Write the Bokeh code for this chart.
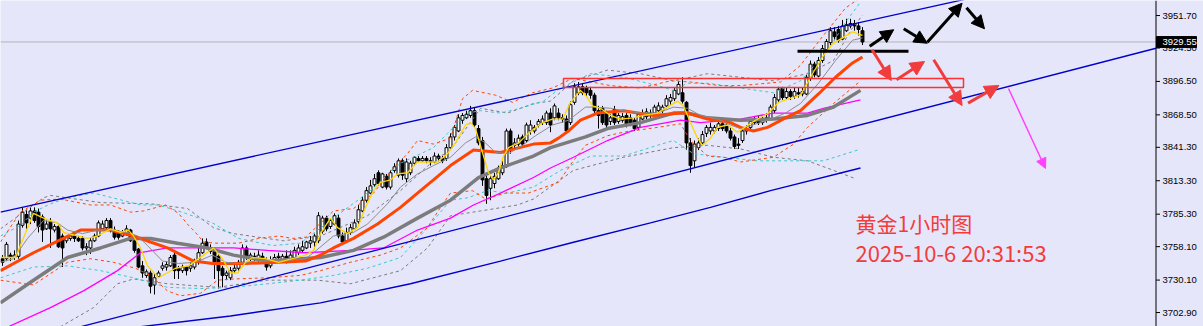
from bokeh.plotting import figure
from bokeh.models import Range1d, Label, Arrow, NormalHead
from bokeh.core.properties import value
from bokeh.embed import file_html
from bokeh.resources import INLINE

# ---------------- candle data (XAUUSD, H1) ----------------
open_px = [3748,3748,3751,3749,3750,3776,3785,3782,3788,3787,
 3783,3773,3779,3772,3775,3767,3763,3765,3767,3765,
 3765,3757,3757,3763,3767,3773,3774,3780,3772,3770,
 3767,3769,3772,3763,3756,3742,3734,3736,3726,3733,
 3740,3741,3742,3751,3740,3738,3741,3740,3741,3745,
 3753,3762,3757,3754,3750,3740,3734,3732,3738,3740,
 3745,3757,3749,3750,3747,3750,3746,3742,3747,3749,
 3746,3750,3748,3749,3753,3755,3757,3761,3762,3763,
 3771,3782,3775,3777,3782,3767,3763,3770,3773,3779,
 3788,3797,3803,3810,3820,3808,3817,3808,3822,3818,
 3830,3815,3820,3828,3832,3830,3832,3830,3829,3834,
 3832,3832,3841,3850,3855,3864,3866,3868,3872,3857,
 3847,3815,3807,3811,3815,3820,3826,3855,3843,3844,
 3850,3847,3855,3855,3860,3862,3862,3870,3866,3870,
 3866,3865,3862,3879,3887,3892,3891,3889,3885,3872,
 3874,3870,3863,3873,3863,3864,3868,3866,3864,3858,
 3865,3867,3870,3870,3872,3872,3876,3880,3882,3886,
 3887,3879,3845,3830,3841,3845,3853,3855,3855,3857,
 3861,3860,3855,3850,3844,3847,3855,3858,3862,3865,
 3862,3865,3865,3872,3881,3891,3883,3888,3884,3887,
 3886,3886,3899,3911,3901,3914,3923,3929,3938,3940,
 3932,3939,3943,3945,3943,3939]
high_px = [3751,3762,3753,3755,3780,3791,3789,3791,3791,3790,
 3785,3780,3782,3777,3777,3769,3767,3768,3769,3767,
 3767,3761,3766,3769,3780,3780,3782,3782,3775,3772,
 3772,3776,3773,3765,3757,3746,3739,3738,3736,3738,
 3745,3746,3751,3753,3742,3743,3742,3745,3748,3757,
 3765,3765,3760,3757,3752,3742,3738,3741,3743,3747,
 3760,3759,3753,3753,3755,3753,3749,3750,3752,3753,
 3752,3755,3755,3758,3760,3763,3763,3767,3769,3787,
 3784,3784,3782,3786,3785,3770,3774,3777,3781,3793,
 3800,3808,3814,3819,3822,3820,3819,3822,3828,3832,
 3832,3832,3830,3834,3834,3834,3834,3833,3837,3836,
 3834,3844,3853,3860,3869,3870,3872,3876,3875,3860,
 3850,3820,3818,3820,3826,3830,3857,3857,3849,3852,
 3852,3862,3864,3860,3865,3868,3872,3874,3878,3874,
 3869,3868,3880,3895,3896,3895,3893,3892,3887,3876,
 3876,3872,3869,3876,3870,3870,3870,3869,3866,3871,
 3873,3874,3873,3877,3879,3877,3885,3886,3891,3897,
 3900,3880,3849,3847,3849,3855,3860,3862,3860,3864,
 3864,3862,3858,3852,3849,3858,3860,3865,3867,3868,
 3868,3870,3877,3886,3892,3892,3891,3890,3891,3891,
 3891,3902,3914,3913,3917,3927,3932,3942,3942,3943,
 3948,3949,3949,3948,3946,3942]
low_px = [3742,3746,3746,3747,3748,3774,3773,3777,3778,3770,
 3762,3772,3757,3770,3757,3741,3761,3763,3762,3762,
 3755,3751,3752,3762,3766,3772,3772,3770,3764,3764,
 3766,3767,3762,3753,3740,3732,3732,3719,3718,3732,
 3738,3738,3741,3731,3731,3736,3734,3737,3739,3743,
 3752,3756,3752,3731,3723,3724,3730,3730,3736,3738,
 3743,3747,3746,3746,3745,3745,3738,3740,3746,3746,
 3745,3744,3746,3747,3751,3753,3756,3757,3756,3761,
 3769,3771,3773,3776,3765,3761,3762,3768,3772,3777,
 3787,3795,3802,3808,3809,3807,3806,3806,3820,3816,
 3814,3812,3818,3826,3829,3829,3828,3826,3828,3829,
 3828,3830,3839,3847,3854,3861,3865,3866,3858,3843,
 3809,3794,3797,3807,3814,3818,3824,3836,3840,3842,
 3842,3845,3852,3853,3858,3860,3860,3854,3864,3864,
 3862,3854,3860,3877,3885,3885,3884,3882,3868,3857,
 3860,3857,3860,3860,3861,3862,3858,3859,3855,3856,
 3864,3865,3866,3868,3870,3870,3874,3877,3880,3885,
 3878,3839,3820,3824,3839,3843,3850,3852,3853,3855,
 3855,3853,3847,3840,3840,3845,3852,3856,3860,3860,
 3860,3862,3864,3870,3879,3881,3881,3881,3882,3883,
 3884,3885,3897,3900,3900,3912,3921,3927,3931,3929,
 3931,3938,3941,3939,3935,3927]
close_px = [3745,3760,3749,3751,3777,3787,3778,3788,3780,3775,
 3772,3777,3773,3775,3758,3757,3766,3767,3765,3763,
 3757,3758,3763,3767,3778,3777,3780,3772,3766,3766,
 3770,3773,3763,3755,3741,3736,3737,3725,3732,3736,
 3742,3743,3749,3738,3738,3741,3738,3742,3746,3753,
 3761,3758,3754,3745,3738,3734,3736,3738,3740,3745,
 3757,3749,3751,3749,3751,3748,3741,3747,3749,3750,
 3750,3748,3751,3755,3757,3758,3762,3763,3767,3784,
 3782,3773,3780,3784,3767,3762,3770,3774,3778,3789,
 3797,3805,3809,3815,3811,3819,3808,3820,3825,3830,
 3818,3829,3828,3833,3830,3832,3830,3829,3834,3832,
 3830,3841,3850,3858,3866,3868,3869,3872,3860,3845,
 3814,3801,3815,3817,3824,3826,3855,3839,3845,3849,
 3844,3860,3860,3858,3863,3865,3870,3860,3876,3866,
 3865,3855,3877,3892,3892,3887,3887,3885,3872,3868,
 3862,3860,3866,3862,3868,3867,3860,3861,3857,3869,
 3870,3871,3869,3875,3876,3875,3882,3883,3889,3894,
 3880,3845,3826,3844,3845,3852,3858,3858,3858,3861,
 3857,3855,3849,3842,3843,3855,3857,3863,3865,3862,
 3865,3866,3875,3883,3890,3883,3888,3884,3888,3886,
 3888,3900,3911,3902,3914,3924,3930,3939,3934,3931,
 3943,3944,3945,3943,3940,3929.55]

last_price = 3929.55
axis_ticks = [3951.70, 3924.50, 3896.50, 3868.50, 3841.30, 3813.30, 3785.30, 3758.10, 3730.10, 3702.90]
tick_labels = ["3951.70", "3924.50", "3896.50", "3868.50", "3841.30", "3813.30", "3785.30", "3758.10", "3730.10", "3702.90"]
price_tag = "3929.55"

# ---------------- indicator lines (bar index, price) ----------------
yellow_x = [-0.5,3.25,7.75,10.25,13.75,15.25,16.5,21.25,23.75,27,29.5,31.5,32.75,34.5,36.25,39,43.25,46.5,50.25,52.75,55,57,58.75,60.75,62.5,65.75,69,72.5,75.75,77.75,79.5,82,83.75,86.25,88.75,90.75,92.75,94.5,97,98.75,101.25,103.75,106.25,108.75,111.25,113.25,115.75,117,118.25,120,121.5,122.75,124,125.25,126.5,129,131.5,135,137.5,140,142,144.5,145.75,147.5,149.5,152,154.5,157.75,160.25,163.75,166.25,168.75,170.25,172,173.75,175,177,178.75,181.25,183.75,188.25,191.5,194,197.5,199.5,202,205,207.5,210,212.5,215]
yellow_y = [3749,3749,3786,3782,3778,3770,3769,3765,3767,3773,3770,3772,3767,3757,3742,3732,3740,3742,3751,3757,3748,3736,3736,3745,3749,3748,3745,3748,3751,3755,3769,3782,3774,3769,3774,3791,3805,3812,3814,3819,3820,3829,3829,3829,3836,3845,3860,3862,3857,3837,3820,3814,3820,3834,3841,3845,3853,3862,3865,3865,3879,3889,3885,3876,3874,3868,3865,3866,3868,3870,3875,3880,3876,3862,3849,3843,3849,3858,3860,3854,3864,3870,3879,3883,3885,3900,3917,3928,3933,3938,3935]

grey_thin_x = [-0.5,2.75,6.25,10.25,13.75,16.25,20,23.75,27,31.25,33.75,36.25,40,44,48.25,52.5,55.75,59,63.25,69,75.75,77.75,82.75,87.75,91.25,96.25,99.5,103.75,107.75,112,115.75,118.25,120.75,123.25,126.5,130,133.25,137.5,141.5,145.75,148.25,152,155.25,159.5,163.75,167.75,171.25,174.5,178.75,182,184.5,191.5,195.75,199.5,204,208.25,212.5,215]
grey_thin_y = [3745,3748,3765,3780,3778,3772,3769,3772,3772,3770,3767,3759,3746,3744,3745,3751,3745,3744,3746,3746,3748,3753,3767,3770,3777,3794,3808,3819,3826,3833,3845,3850,3845,3837,3836,3843,3851,3860,3864,3875,3875,3874,3872,3870,3870,3875,3874,3868,3865,3860,3857,3864,3870,3878,3895,3914,3931,3933]

orange_x = [-0.5,7.75,12.75,19.5,27,32.75,37,41.25,47.75,52.5,60.75,69,75.75,79.5,82.75,87.75,93.75,99.5,103.75,107.75,112,117.75,124.5,132.75,137,139,141.5,144.5,148.75,155.25,162.75,169.5,171.25,176.25,182,184.5,187.75,191.25,195.75,199.5,204,208.25,212.5,215]
orange_y = [3738,3753,3761,3772,3772,3767,3762,3757,3746,3744,3744,3745,3746,3751,3757,3765,3777,3791,3803,3814,3826,3839,3837,3844,3845,3849,3855,3864,3870,3872,3868,3870,3870,3865,3862,3858,3855,3858,3866,3872,3886,3900,3912,3917]

grey_thick_x = [-0.5,7.75,16.25,24.5,32,37,43.75,51.25,57.75,66.25,79.5,87.75,95.25,103.75,112,119,124.5,132.75,137,145.75,151.25,159.5,167.75,171.25,176.25,184.5,192.75,201.25,207.75,214.5]
grey_thick_y = [3711,3730,3749,3757,3765,3765,3761,3757,3751,3746,3749,3755,3766,3782,3797,3816,3824,3834,3841,3850,3857,3862,3870,3870,3866,3864,3865,3868,3875,3889]

magenta_x = [-0.5,12,20.25,28.75,34.5,41.25,49.5,57.75,66.25,75.75,87,95.25,103.75,112,117.75,124.5,132.75,137,142.75,151.25,159.5,169.5,174.5,184.5,192.75,201.25,205.25,214.5]
magenta_y = [3688,3707,3721,3738,3753,3757,3757,3757,3755,3753,3755,3757,3772,3782,3793,3803,3816,3824,3833,3847,3858,3864,3862,3865,3870,3870,3874,3881]

bb_red_up_x = [-0.5,4.5,9.5,14.5,22,27,32,35.25,40.75,44,46.5,48.25,50.25,53.25,59,64,69,72.5,75.75,82.75,87.75,92.75,97.75,101.25,103.75,107.75,112,115,117.5,123.25,127.5,132.5,137.5,142.5,145.75,152,159.5,167,172,179.5,184.5,194.5,199.5,204.5,210.75,215]
bb_red_up_y = [3762,3787,3797,3798,3793,3793,3787,3788,3793,3786,3776,3770,3762,3761,3761,3765,3767,3765,3766,3788,3790,3803,3824,3836,3847,3844,3849,3882,3889,3885,3879,3887,3891,3899,3897,3893,3891,3897,3896,3893,3893,3896,3910,3932,3958,3968]
bb_red_lo_x = [-0.5,7.75,16.25,22,27.75,33.25,37,41.25,44.5,49.5,53.75,57.75,66.25,74.5,79.5,87,94.5,99.5,106.25,109.5,112,117.5,120.75,125.75,131.5,139,142.5,145.75,151.25,155.25,163.75,169.5,172,176.25,180.25,184.5,192.75,197.75,201.25,207.75,214.5]
bb_red_lo_y = [3730,3726,3745,3748,3745,3740,3734,3721,3717,3719,3730,3731,3732,3734,3738,3745,3751,3757,3774,3791,3803,3805,3798,3803,3803,3812,3829,3843,3851,3854,3858,3861,3847,3834,3833,3829,3833,3844,3858,3878,3897]

bb_cyan_up_x = [-0.5,4.5,7.75,12,16.25,22.75,28.75,34.5,39,45.75,52.5,59,67.5,74.5,82.75,91.25,99.5,107.75,111.25,116.25,119.5,124.5,129.5,135.25,139.5,147,155.25,163.75,167.75,171.25,176.25,184.5,192.75,199.5,206.25,210.75,214.5]
bb_cyan_up_y = [3767,3776,3787,3794,3799,3803,3798,3793,3793,3786,3778,3765,3759,3761,3782,3803,3828,3841,3853,3870,3872,3870,3874,3880,3891,3903,3900,3893,3889,3895,3895,3891,3887,3897,3922,3946,3963]
bb_cyan_lo_x = [-0.5,7.75,16.25,24.5,32.75,41.25,49.5,57.75,66.25,74.5,82.75,91.25,99.5,106.25,112,116.25,121.25,126.25,132.75,139.5,147,155.25,163.75,167.75,172.75,180.25,188.75,197,205.25,213.75]
bb_cyan_lo_y = [3732,3741,3742,3738,3732,3724,3723,3724,3727,3730,3734,3740,3749,3774,3797,3799,3805,3803,3808,3822,3834,3834,3843,3847,3836,3833,3830,3830,3830,3839]

bb_grey_up_x = [-0.5,10.25,12,24.5,37,46.25,52.75,57.75,70.25,79.5,91.25,99.5,107.75,112,119.5,126.25,132.75,137,142.75,151.25,159.5,167.75,176.25,184.5,192.75,201.25,207.75,212,215]
bb_grey_up_y = [3773,3799,3801,3795,3794,3790,3774,3769,3763,3767,3784,3805,3830,3839,3874,3870,3878,3880,3897,3906,3903,3897,3903,3900,3897,3903,3914,3939,3952]
bb_grey_lo_x = [9.5,14.5,22.75,28.75,32.75,41.25,53.75,66.25,78.75,87,99.5,106.25,112,119.5,128.75,132.75,142.75,155.25,167.75,176.25,184.5,192.75,201.25,207.75,213.25]
bb_grey_lo_y = [3679.5,3691,3707,3727,3731,3727,3724,3730,3730,3727,3738,3757,3784,3788,3793,3798,3822,3833,3841,3843,3840,3833,3830,3822,3815]

blue_low_x = [24.5,34.5,57,79.5,102,124.5,143,162,177,192,214.5]
blue_low_y = [3687,3691,3700,3711,3727,3746,3762,3778,3791,3805,3824]

# trend channel (drawn by the analyst), ends at the price scale
chart_end = 288.375
chan_x = [-0.5, chart_end]
chan_up_y = [3787.0, 4000.6]
chan_lo_y = [3673.6, 3924.3]

# analyst marks
zone_x = [140.25, 240.25]
zone_y = [3891.4, 3899.0]
support_x = [198.75, 226.5]
support_y = 3921.8
black_arrows = [(216.8,3926.0,222.8,3939.8),(225.3,3940.6,231.2,3928.5),(231.2,3929.4,239.9,3962.0),(241.0,3958.2,245.5,3940.6)]
red_arrows = [(217.4,3923.0,222.2,3897.3),(223.5,3897.9,230.5,3913.2),(232.8,3914.6,239.9,3876.3),(241.4,3878.3,249.1,3893.1)]
magenta_arrows = [(251.5,3890.6,260.75,3823.6)]

title_text = "黄金1小时图"
time_text = "2025-10-6 20:31:53"

BG = "#E6E6FA"
p = figure(width=1203, height=326,
           x_range=Range1d(-0.5, 300.25), y_range=Range1d(3691.2, 3964.3),
           output_backend="svg", toolbar_location=None,
           x_axis_location=None, y_axis_location=None, min_border=0)
p.background_fill_color = BG
p.border_fill_color = BG
p.outline_line_color = None
p.grid.visible = False

# current price line
p.segment(x0=[-0.5], x1=[chart_end], y0=[last_price], y1=[last_price], line_color="#B4B4B4", line_width=1)

# candles
idx = list(range(len(close_px)))
p.segment(x0=idx, y0=high_px, x1=idx, y1=low_px, line_color="black", line_width=1)
inc = [i for i in idx if close_px[i] >= open_px[i]]
dec = [i for i in idx if close_px[i] < open_px[i]]
p.vbar(x=inc, top=[close_px[i] for i in inc], bottom=[open_px[i] for i in inc], width=0.72,
       fill_color="white", line_color="black", line_width=1)
p.vbar(x=dec, top=[open_px[i] for i in dec], bottom=[close_px[i] for i in dec], width=0.72,
       fill_color="black", line_color="black", line_width=1)

# bands
dash = "3 3"
p.line(bb_grey_up_x, bb_grey_up_y, line_color="#7A7A7A", line_width=1, line_dash=dash)
p.line(bb_grey_lo_x, bb_grey_lo_y, line_color="#7A7A7A", line_width=1, line_dash=dash)
p.line(bb_cyan_up_x, bb_cyan_up_y, line_color="#3CC8C8", line_width=1, line_dash=dash)
p.line(bb_cyan_lo_x, bb_cyan_lo_y, line_color="#3CC8C8", line_width=1, line_dash=dash)
p.line(bb_red_up_x, bb_red_up_y, line_color="#FF4500", line_width=1, line_dash=dash)
p.line(bb_red_lo_x, bb_red_lo_y, line_color="#FF4500", line_width=1, line_dash=dash)

# moving averages
p.line(magenta_x, magenta_y, line_color="#FF00FF", line_width=1.3)
p.line(grey_thick_x, grey_thick_y, line_color="#7C7C7C", line_width=3.5)
p.line(orange_x, orange_y, line_color="#FF4500", line_width=3)
p.line(grey_thin_x, grey_thin_y, line_color="#8C8C8C", line_width=1)
p.line(yellow_x, yellow_y, line_color="#FFD700", line_width=1.3)
p.line(blue_low_x, blue_low_y, line_color="#0000CD", line_width=1.4)

# channel
p.line(chan_x, chan_up_y, line_color="#0000CD", line_width=1.3)
p.line(chan_x, chan_lo_y, line_color="#0000CD", line_width=1.3)

# zone box and support line
p.quad(left=[zone_x[0]], right=[zone_x[1]], bottom=[zone_y[0]], top=[zone_y[1]],
       fill_alpha=0, line_color="#FF3030", line_width=1.5)
p.segment(x0=[support_x[0]], x1=[support_x[1]], y0=[support_y], y1=[support_y],
          line_color="black", line_width=3)

def add_arrows(lst, color, lw, hs):
    for (x0, y0, x1, y1) in lst:
        p.add_layout(Arrow(end=NormalHead(size=hs, fill_color=color, line_color=color),
                           x_start=x0, y_start=y0, x_end=x1, y_end=y1,
                           line_color=color, line_width=lw))

add_arrows(black_arrows, "black", 3, 13)
add_arrows(red_arrows, "#F03C3C", 3, 14)
add_arrows(magenta_arrows, "#FF40FF", 1.5, 10)

p.add_layout(Label(x=213.25, y=3777.5, text=title_text, text_font="Noto Sans CJK SC",
                   text_font_size="21px", text_color="#F23C3C", text_baseline="alphabetic"))
p.add_layout(Label(x=213.25, y=3753.5, text=time_text, text_font="Noto Sans CJK SC",
                   text_font_size="22px", text_color="#F23C3C", text_baseline="alphabetic"))

# ---------------- price scale (MT4 style, at the right edge) ----------------
p.segment(x0=[chart_end], x1=[chart_end], y0=[3691.2], y1=[3964.3], line_color="black", line_width=1)
n = len(axis_ticks)
p.segment(x0=[chart_end] * n, x1=[chart_end + 1.0] * n, y0=axis_ticks, y1=axis_ticks,
          line_color="black", line_width=1)
p.text(x=[290.0] * n, y=axis_ticks, text=tick_labels, text_font=value("Liberation Sans"),
       text_font_size="9.5px", text_color="black", text_baseline="middle", text_align="left")
# current price tag
p.quad(left=[288.5], right=[298.5], bottom=[3924.9], top=[3934.1], fill_color="black", line_color="black")
p.text(x=[290.0], y=[last_price], text=[price_tag], text_font=value("Liberation Sans"),
       text_font_size="9.5px", text_color="white", text_baseline="middle", text_align="left")

open("out.html", "w").write(file_html(p, INLINE))
